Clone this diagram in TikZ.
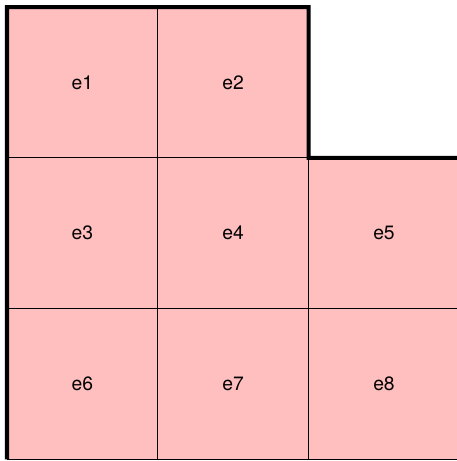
\documentclass[tikz,border=0pt]{standalone}
\usepackage{fontspec}
\setmainfont{TeX Gyre Heros}
\usepackage{xcolor}
\definecolor{cellpink}{HTML}{FFBFBF}

\begin{document}
\begin{tikzpicture}[
  x=0.02cm,y=-0.02cm,
  font=\fontsize{11}{13}\selectfont,
  cell/.style={draw,line width=0.55pt,fill=cellpink,minimum width=3.016cm,minimum height=3.016cm,inner sep=0pt,outer sep=0pt},
  outline/.style={line width=2.3pt,line join=miter}
]
\useasboundingbox (0,0) rectangle (457,461);
% cells of the shape
\node[cell] (e1) at (82.4,82.4) {e1};
\node[cell] (e2) at (233.2,82.4) {e2};
\node[cell] (e3) at (82.4,233.2) {e3};
\node[cell] (e4) at (233.2,233.2) {e4};
\node[cell] (e5) at (384,233.2) {e5};
\node[cell] (e6) at (82.4,384) {e6};
\node[cell] (e7) at (233.2,384) {e7};
\node[cell] (e8) at (384,384) {e8};
% thick border
\draw[outline] (e6.south west) -- (e1.north west) -- (e2.north east) -- (e2.south east) -- (e5.north east);
\end{tikzpicture}
\end{document}
